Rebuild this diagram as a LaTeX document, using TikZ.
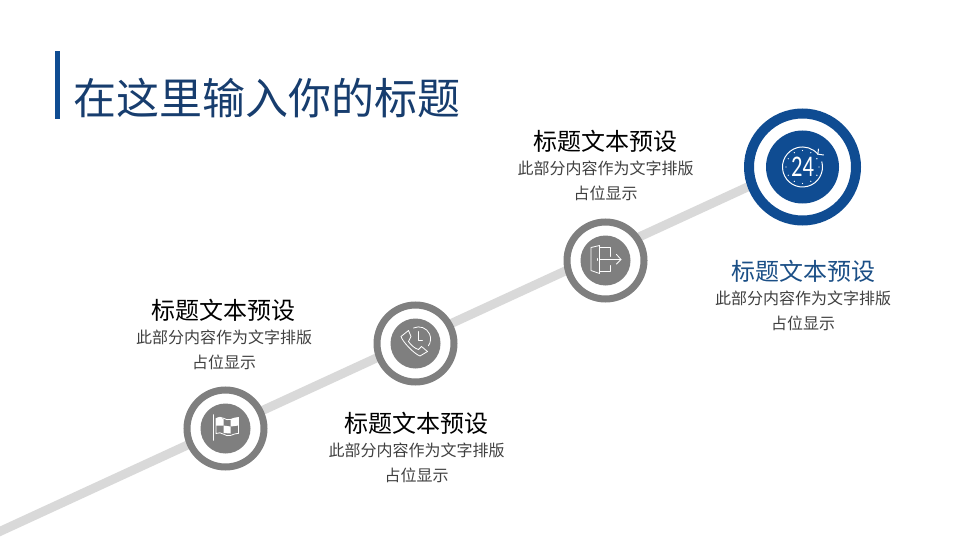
\documentclass[tikz,border=0pt]{standalone}
\usepackage{fontspec}
\setmainfont{Noto Sans CJK SC}
\newfontfamily\digitfont{Carlito}
\usetikzlibrary{backgrounds}
\definecolor{deepblue}{HTML}{0F4C92}
\definecolor{titleblue}{HTML}{173D6E}
\definecolor{headblue}{HTML}{1B4F86}
\definecolor{midgray}{HTML}{7F7F7F}
\definecolor{trackgray}{HTML}{D9D9D9}

\begin{document}
\begin{tikzpicture}[x=1pt, y=-1pt,
    ring/.style={circle, draw=midgray, fill=white, line width=7pt, minimum size=77pt, inner sep=0pt},
    bigring/.style={ring, draw=deepblue, line width=10pt, minimum size=107pt},
    disc/.style={circle, fill=midgray, minimum size=50pt, inner sep=0pt},
    bigdisc/.style={disc, fill=deepblue, minimum size=73pt},
    track/.style={trackgray, line width=9pt},
    icon/.style={white, line width=0.8pt, line join=round, line cap=round},
    heading/.style={font=\fontsize{24}{28}\selectfont, text=black, inner sep=0pt},
    body/.style={font=\fontsize{16}{25}\selectfont, text=black!75, align=center, inner sep=0pt}
  ]
  \useasboundingbox (0,0) rectangle (960,540);

  % Title with its bar
  \fill[deepblue] (55,51) rectangle (60,119);
  \node[font=\fontsize{43}{50}\selectfont, text=titleblue, inner sep=0pt, anchor=west] (title) at (73,98) {在这里输入你的标题};

  % Step circles
  \node[ring] (flagRing) at (225.5,428.5) {};
  \node[ring] (phoneRing) at (415.5,343.5) {};
  \node[ring] (doorRing) at (605.5,260.5) {};
  \node[bigring] (timerRing) at (802.5,167) {};
  \node[disc] (flagDisc) at (flagRing) {};
  \node[disc] (phoneDisc) at (phoneRing) {};
  \node[disc] (doorDisc) at (doorRing) {};
  \node[bigdisc] (timerDisc) at (timerRing) {};

  % Rising track behind the circles
  \coordinate (trackStart) at (-10,536);
  \begin{scope}[on background layer]
    \draw[track] (trackStart) -- (timerRing.200);
  \end{scope}

  % Flag icon
  \begin{scope}[shift={(flagRing)}, icon]
    \draw[line width=1.8pt] (-12,-13.5) -- (-12,11.5);
    \draw (-9.5,-10) .. controls (-4,-14) and (0,-7) .. (5,-9) .. controls (8,-10) and (10,-11) .. (13,-11)
      -- (13,5) .. controls (9,5) and (8,6) .. (5,7) .. controls (0,9) and (-4,2) .. (-9.5,5) -- cycle;
    \fill[white] (-9.5,-10) .. controls (-6,-12) and (-4,-11) .. (-2,-9.5) -- (-2,-3) -- (-9.5,-3) -- cycle;
    \fill[white] (-2,-3) -- (5,-2) -- (5,5) -- (-2,4.5) -- cycle;
    \fill[white] (5,-9) .. controls (8,-10) and (10,-11) .. (13,-11) -- (13,-3) -- (5,-2) -- cycle;
  \end{scope}

  % Phone and clock icon
  \begin{scope}[shift={(phoneRing)}, icon]
    \draw (-7,-13) -- (-14.5,-7) .. controls (-13,-2) and (-2,10) .. (4.5,12.5) -- (12,8) -- (6,3) -- (3,6)
      .. controls (-1,5) and (-5,1) .. (-7,-2) -- (-4.5,-7) -- cycle;
    \draw (-2,-15.5) arc (-115:35:12);
    \draw (3,-12) -- (3,-3.5) -- (7,-3.5);
  \end{scope}

  % Door icon
  \begin{scope}[shift={(doorRing)}, icon]
    \draw (-14.5,-13) -- (-6,-15) -- (-6,13) -- (-14.5,10) -- cycle;
    \draw (-6,-13) -- (4.5,-13) -- (4.5,-4);
    \draw (4.5,5) -- (4.5,11) -- (-6,11);
    \draw (-5.5,-1) -- (15.5,-1);
    \draw (11,-6) -- (15.5,-1) -- (11,3.5);
    \draw (-8,-2) -- (-8,0);
  \end{scope}

  % Timer icon
  \begin{scope}[shift={(timerRing)}, icon]
    \draw[line width=1pt] (19.3,-5.2) arc (-15:320:20);
    \draw[line width=1pt] (15.3,-12.9) -- (16,-18);
    \draw[line width=1pt] (15.3,-12.9) -- (21,-12);
    \foreach \a in {0,30,...,330} {
      \fill[white] (\a:16.5) circle (0.7);
    }
    \node[font=\digitfont\fontsize{30}{30}\selectfont, text=white, inner sep=0pt, xscale=0.75, transform shape] (timerText) at (0,0) {24};
  \end{scope}

  % Labels
  \node[heading] (flagHead) at (223,310) {标题文本预设};
  \node[body] (flagBody) at (224,350) {此部分内容作为文字排版\\占位显示};
  \node[heading] (phoneHead) at (416,423) {标题文本预设};
  \node[body] (phoneBody) at (416.5,463) {此部分内容作为文字排版\\占位显示};
  \node[heading] (doorHead) at (605,141) {标题文本预设};
  \node[body] (doorBody) at (605.5,181) {此部分内容作为文字排版\\占位显示};
  \node[heading, text=headblue] (timerHead) at (803,271) {标题文本预设};
  \node[body] (timerBody) at (803,311) {此部分内容作为文字排版\\占位显示};
\end{tikzpicture}
\end{document}
